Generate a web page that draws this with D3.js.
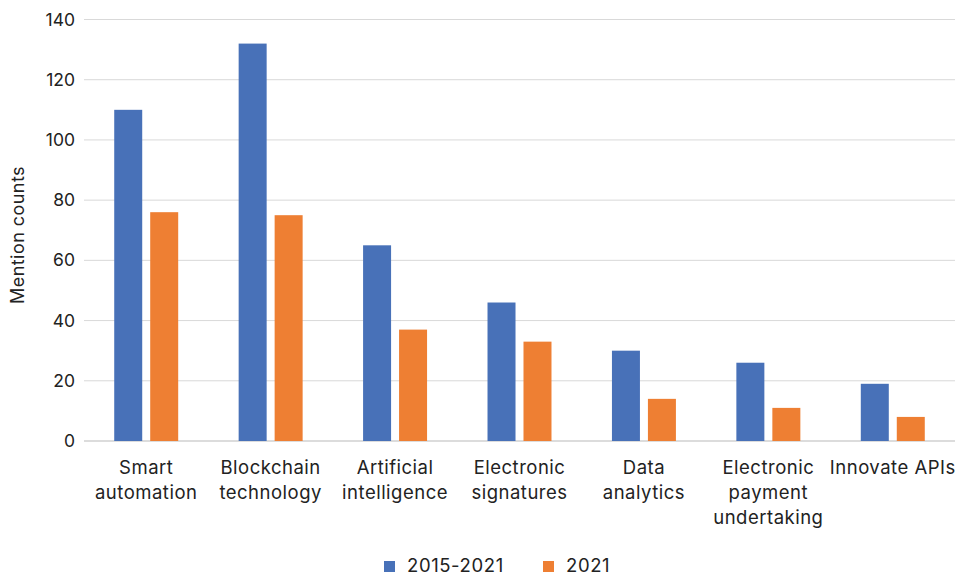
<!DOCTYPE html>
<html><head><meta charset="utf-8">
<script src="https://cdn.jsdelivr.net/npm/d3@7"></script>
<style>body{margin:0;background:#fff}svg{display:block}text{font-family:Inter,"Open Sans",sans-serif;fill:#222}</style>
</head><body><svg id="c" width="965" height="575"></svg>
<script>
const categories = [["Smart","automation"],["Blockchain","technology"],["Artificial","intelligence"],["Electronic","signatures"],["Data","analytics"],["Electronic","payment","undertaking"],["Innovate APIs"]];
const seriesNames = ["2015-2021","2021"];
const series1 = [110,132,65,46,30,26,19];
const series2 = [76,75,37,33,14,11,8];
const yTicks = [0,20,40,60,80,100,120,140];
const colors = ["#4871B8","#EE7F33"];

const svg = d3.select("#c");
const m = {l:84,r:955,t:19.5,b:441};
const x = d3.scaleBand().domain(d3.range(categories.length)).range([m.l,m.r]);
const y = d3.scaleLinear().domain([0,140]).range([m.b,m.t]);
const xi = d3.scaleBand().domain([0,1]).range([0,x.bandwidth()]).paddingInner(0.222).paddingOuter(0.84);

const g = svg.append("g");
g.selectAll("line.grid").data(yTicks).join("line")
  .attr("x1",m.l).attr("x2",m.r).attr("y1",d=>y(d)).attr("y2",d=>y(d))
  .attr("stroke",d=>d===0?"#d0d0d0":"#d9d9d9").attr("stroke-width",d=>d===0?1.5:1);
g.selectAll("text.yt").data(yTicks).join("text")
  .attr("x",75).attr("y",d=>y(d)).attr("dy","0.35em").attr("text-anchor","end")
  .style("font-size","17.5px").text(d=>d);

const data = [series1,series2];
data.forEach((s,si)=>{
  g.selectAll("rect.s"+si).data(s).join("rect")
   .attr("x",(d,i)=>x(i)+xi(si)).attr("width",xi.bandwidth())
   .attr("y",d=>y(d)).attr("height",d=>y(0)-y(d)).attr("fill",colors[si]);
});

categories.forEach((lines,i)=>{
  const t = g.append("text").attr("text-anchor","middle").style("font-size","18.5px").style("letter-spacing","0.5px");
  lines.forEach((ln,j)=>t.append("tspan").attr("x",x(i)+x.bandwidth()/2).attr("y",474+j*25).text(ln));
});

g.append("text").attr("transform","translate(24,235) rotate(-90)").attr("text-anchor","middle")
  .style("font-size","18px").style("letter-spacing","0.45px").text("Mention counts");

const lx = [384,543];
seriesNames.forEach((n,i)=>{
  g.append("rect").attr("x",lx[i]).attr("y",561).attr("width",11).attr("height",11).attr("fill",colors[i]);
  g.append("text").attr("x",lx[i]+23).attr("y",566).attr("dy","0.35em").style("font-size","18.5px").style("letter-spacing","0.6px").text(n);
});
</script></body></html>
